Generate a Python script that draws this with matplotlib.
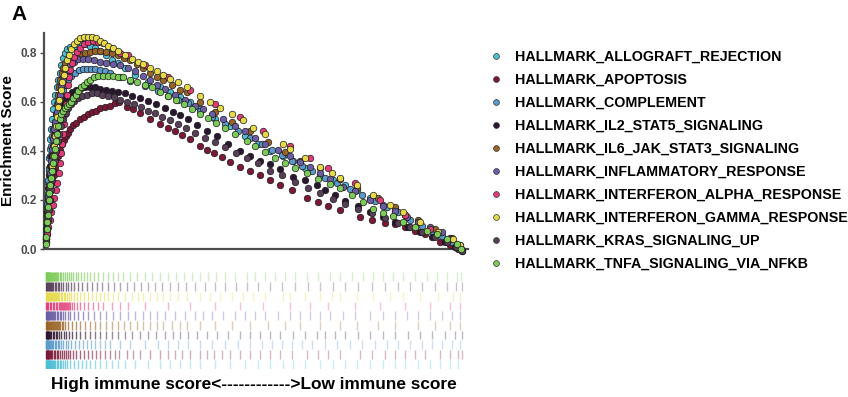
import numpy as np
import matplotlib
matplotlib.use('Agg')
import matplotlib.pyplot as plt
from matplotlib.lines import Line2D
from matplotlib.colors import to_rgba

plt.rcParams['font.family'] = ['Liberation Sans', 'DejaVu Sans']
plt.rcParams['font.weight'] = 'bold'

# ---------------- data (gene rank of hit, running enrichment score) -------------
gene_sets = ['HALLMARK_ALLOGRAFT_REJECTION', 'HALLMARK_APOPTOSIS', 'HALLMARK_COMPLEMENT',
             'HALLMARK_IL2_STAT5_SIGNALING', 'HALLMARK_IL6_JAK_STAT3_SIGNALING',
             'HALLMARK_INFLAMMATORY_RESPONSE', 'HALLMARK_INTERFERON_ALPHA_RESPONSE',
             'HALLMARK_INTERFERON_GAMMA_RESPONSE', 'HALLMARK_KRAS_SIGNALING_UP',
             'HALLMARK_TNFA_SIGNALING_VIA_NFKB']

allograft_rank = [25,50,75,100,125,150,175,200,225,250,300,350,400,450,500,575,650,725,800,900,
                  1000,1100,1250,1450,1650,1850,2050,2250,2500,2750,3050,3350,3650,4000,4500,5150,
                  5750,6250,6750,7250,7750,8500,9250,10000,10650,11250,11900,12400,13000,13750,
                  14400,15000,15600,16250,16900,17500,18000,18650,19250,19750,20250,20650]
allograft_es = [0.03,0.07,0.12,0.17,0.22,0.27,0.32,0.37,0.41,0.45,0.49,0.53,0.57,0.60,0.63,0.66,
                0.69,0.72,0.75,0.78,0.80,0.815,0.825,0.83,0.835,0.835,0.835,0.83,0.82,0.81,0.79,
                0.77,0.76,0.74,0.71,0.68,0.66,0.64,0.62,0.60,0.57,0.53,0.50,0.46,0.43,0.40,0.38,
                0.36,0.33,0.30,0.28,0.26,0.24,0.21,0.18,0.16,0.14,0.11,0.08,0.06,0.04,0.015]

apoptosis_rank = [50,75,100,125,150,200,250,300,350,425,500,575,650,750,850,950,1050,1150,1250,
                  1400,1550,1750,1950,2150,2350,2550,2750,3000,3250,3500,3700,4100,4400,4750,5250,
                  5750,6150,6500,6850,7250,7750,8100,8450,8850,9250,9750,10250,10750,11250,11750,
                  12350,13100,13650,14150,14750,15750,16350,17000,17500,18000,18500,19000,19750,
                  20250,20650,20850]
apoptosis_es = [0.03,0.06,0.09,0.12,0.15,0.18,0.21,0.24,0.27,0.30,0.33,0.355,0.38,0.405,0.43,
                0.445,0.46,0.475,0.49,0.505,0.515,0.53,0.54,0.55,0.56,0.565,0.575,0.58,0.585,
                0.595,0.60,0.58,0.57,0.555,0.53,0.51,0.495,0.48,0.465,0.45,0.42,0.405,0.39,0.375,
                0.355,0.335,0.32,0.30,0.28,0.26,0.24,0.21,0.19,0.175,0.16,0.13,0.12,0.105,0.10,
                0.09,0.075,0.06,0.03,0.015,0.0,-0.01]

complement_rank = [25,50,75,100,125,150,200,250,300,350,400,475,550,625,700,800,900,1025,1150,
                   1300,1500,1700,1900,2100,2300,2500,2750,3000,3250,3750,4250,5000,5650,6150,
                   6650,7150,7750,8350,9000,9650,10250,10850,11350,11850,12350,12850,13350,14000,
                   14600,15250,15850,16500,17100,17650,18250,18850,19350,19850,20350,20750]
complement_es = [0.04,0.08,0.13,0.18,0.23,0.28,0.33,0.38,0.42,0.46,0.49,0.52,0.55,0.58,0.60,0.63,
                 0.65,0.67,0.69,0.705,0.72,0.73,0.735,0.735,0.735,0.735,0.73,0.725,0.72,0.70,
                 0.685,0.665,0.645,0.625,0.61,0.595,0.565,0.54,0.51,0.48,0.455,0.43,0.405,0.385,
                 0.36,0.34,0.32,0.29,0.27,0.245,0.22,0.195,0.17,0.15,0.12,0.095,0.075,0.055,0.03,
                 0.01]

il2_rank = [50,75,100,125,150,200,250,300,375,450,525,600,700,800,925,1050,1200,1350,1550,1750,
            2000,2250,2500,2750,3050,3350,3650,4000,4350,4750,5150,5550,6000,6400,6750,7150,7600,
            8100,8600,9150,9750,10250,10750,11250,11750,12400,13000,13600,14000,14500,15000,
            15650,16250,16900,17500,18150,18750,19350,20000,20500,20850]
il2_es = [0.05,0.10,0.15,0.20,0.25,0.30,0.34,0.38,0.42,0.46,0.49,0.52,0.55,0.575,0.595,0.615,
          0.63,0.64,0.65,0.655,0.66,0.66,0.66,0.655,0.65,0.645,0.64,0.635,0.625,0.615,0.605,0.59,
          0.575,0.56,0.545,0.53,0.505,0.48,0.46,0.43,0.40,0.38,0.36,0.345,0.325,0.295,0.28,0.26,
          0.24,0.22,0.195,0.175,0.15,0.13,0.11,0.09,0.07,0.05,0.03,0.01,-0.005]

il6_rank = [50,75,100,125,175,225,275,325,375,425,475,525,575,625,675,750,825,900,1000,1150,
            1350,1550,1750,2000,2250,2500,2750,3050,3350,3650,3950,4250,4600,4900,5250,5600,5900,
            6350,6750,7100,7750,8500,9350,10250,11150,12000,12750,13750,14750,15600,16650,17500,
            18650,19500,20250,20750]
il6_es = [0.04,0.08,0.12,0.16,0.21,0.26,0.31,0.36,0.41,0.46,0.51,0.55,0.59,0.63,0.66,0.69,0.72,
          0.74,0.76,0.77,0.78,0.785,0.79,0.80,0.805,0.81,0.81,0.805,0.80,0.79,0.78,0.77,0.755,
          0.74,0.72,0.70,0.69,0.67,0.65,0.64,0.60,0.56,0.52,0.48,0.435,0.395,0.36,0.33,0.285,
          0.25,0.21,0.17,0.12,0.08,0.045,0.01]

inflam_rank = [50,75,100,125,150,200,250,300,350,400,450,500,575,650,725,800,900,1000,1125,1250,
               1450,1650,1900,2150,2450,2750,3050,3400,3750,4150,4500,4900,5250,5600,6000,6500,
               7000,7500,7900,8350,8900,9500,10000,10500,11000,11650,12250,12750,13250,13750,
               14250,14900,15500,16250,16900,17500,18100,18650,19250,19850,20350,20750]
inflam_es = [0.05,0.09,0.13,0.17,0.21,0.26,0.31,0.36,0.41,0.45,0.49,0.52,0.56,0.60,0.63,0.66,
             0.69,0.71,0.73,0.75,0.765,0.775,0.775,0.775,0.77,0.765,0.76,0.755,0.75,0.74,0.725,
             0.705,0.69,0.67,0.655,0.63,0.61,0.585,0.57,0.55,0.53,0.50,0.48,0.455,0.43,0.405,
             0.38,0.355,0.335,0.31,0.285,0.255,0.235,0.20,0.175,0.155,0.13,0.11,0.09,0.07,0.045,
             0.015]

ifna_rank = [50,100,150,225,300,375,450,525,600,675,725,775,825,875,925,975,1025,1075,1125,1175,
             1250,1350,1450,1600,1750,1950,2150,2400,2650,2900,3350,3750,4150,5000,6150,7250,
             8500,9750,10900,12250,13250,14150,15500,16750,18000,19250,20250,20750]
ifna_es = [0.03,0.06,0.09,0.12,0.15,0.18,0.21,0.24,0.27,0.31,0.35,0.39,0.43,0.47,0.51,0.55,0.59,
           0.63,0.67,0.70,0.73,0.76,0.785,0.805,0.82,0.835,0.845,0.85,0.845,0.84,0.82,0.80,0.79,
           0.75,0.70,0.65,0.59,0.54,0.48,0.42,0.37,0.33,0.27,0.20,0.14,0.08,0.04,0.01]

ifng_rank = [50,75,100,150,200,250,300,350,400,450,500,550,600,650,700,775,850,925,1000,1100,
             1200,1300,1450,1600,1750,1950,2150,2350,2550,2750,2950,3150,3400,3650,4000,4350,
             4650,4900,5250,5600,5900,6250,6650,7100,7750,8250,8750,9350,9900,10400,11000,11900,
             12250,13000,13750,14350,14750,15600,16400,17250,17900,18750,19650,20400,20750]
ifng_es = [0.04,0.08,0.12,0.16,0.20,0.25,0.29,0.34,0.38,0.42,0.46,0.50,0.54,0.58,0.61,0.65,0.68,
           0.71,0.74,0.77,0.79,0.815,0.835,0.85,0.86,0.865,0.865,0.865,0.86,0.85,0.84,0.83,0.82,
           0.81,0.79,0.775,0.765,0.755,0.74,0.725,0.71,0.695,0.68,0.66,0.625,0.60,0.575,0.55,
           0.525,0.495,0.47,0.43,0.41,0.37,0.335,0.31,0.29,0.26,0.22,0.18,0.15,0.11,0.07,0.04,
           0.015]

kras_rank = [50,75,125,175,225,275,325,400,475,550,625,700,800,900,1025,1150,1300,1450,1650,1850,
             2100,2350,2600,2850,3150,3450,3750,4100,4450,4800,5150,5500,5850,6250,6650,7050,
             7500,8000,8500,9000,9550,10100,10650,11250,11850,12500,13150,13750,14400,15000,
             15650,16350,17000,17650,18250,18850,19500,20100,20550,20850]
kras_es = [0.04,0.08,0.12,0.16,0.20,0.24,0.28,0.32,0.36,0.40,0.44,0.47,0.50,0.53,0.555,0.575,
           0.59,0.605,0.615,0.625,0.63,0.635,0.635,0.63,0.625,0.62,0.61,0.60,0.59,0.58,0.565,
           0.555,0.54,0.525,0.51,0.495,0.475,0.455,0.435,0.415,0.39,0.37,0.35,0.32,0.30,0.275,
           0.25,0.23,0.205,0.185,0.165,0.145,0.125,0.105,0.09,0.07,0.05,0.03,0.01,-0.01]

tnfa_rank = [25,50,75,100,125,150,175,200,250,300,350,400,450,500,550,600,650,725,800,900,1000,
             1100,1200,1300,1400,1525,1650,1800,1950,2100,2250,2450,2650,2900,3150,3400,3650,
             3900,4250,4600,5000,5350,5750,6150,6550,6950,7350,7750,8150,8550,9000,9500,10100,
             10500,11000,11500,12000,12500,13100,13650,14250,14750,15350,15900,16400,16900,
             17400,17900,18500,19100,19600,20100,20600,20800]
tnfa_es = [0.02,0.05,0.08,0.11,0.14,0.17,0.20,0.23,0.26,0.29,0.32,0.35,0.38,0.41,0.44,0.47,0.50,
           0.53,0.55,0.565,0.575,0.585,0.59,0.60,0.615,0.63,0.645,0.66,0.67,0.68,0.69,0.70,0.705,
           0.705,0.705,0.705,0.70,0.70,0.69,0.68,0.67,0.66,0.64,0.625,0.61,0.59,0.57,0.55,0.535,
           0.515,0.495,0.47,0.44,0.42,0.395,0.37,0.35,0.33,0.31,0.285,0.265,0.25,0.22,0.19,0.165,
           0.145,0.135,0.11,0.09,0.075,0.06,0.04,0.02,0.0]

ranks = [allograft_rank, apoptosis_rank, complement_rank, il2_rank, il6_rank,
         inflam_rank, ifna_rank, ifng_rank, kras_rank, tnfa_rank]
scores = [allograft_es, apoptosis_es, complement_es, il2_es, il6_es,
          inflam_es, ifna_es, ifng_es, kras_es, tnfa_es]

y_ticks = [0.0, 0.2, 0.4, 0.6, 0.8]
x_label = 'High immune score<------------>Low immune score'

# ---------------- style -------------
colors = ['#4FBFD6', '#7A1836', '#5B9ACB', '#2B1630', '#9A6427',
          '#6C5CA3', '#E23C78', '#E6DA4B', '#573F58', '#7CCB58']

W, H = 848, 397
fig = plt.figure(figsize=(W / 100, H / 100), dpi=100)

def px_rect(x0, y0, x1, y1):
    return [x0 / W, 1 - y1 / H, (x1 - x0) / W, (y1 - y0) / H]

ax = fig.add_axes(px_rect(44, 33, 468, 249))
ax.set_xlim(-50, 21150)
ax.set_ylim(0, 0.8816)
for s in ['top', 'right']:
    ax.spines[s].set_visible(False)
for s in ['left', 'bottom']:
    ax.spines[s].set_color('#4d4d4d')
    ax.spines[s].set_linewidth(1.6)
ax.set_xticks([])
ax.set_yticks(y_ticks)
ax.set_yticklabels([f'{v:.1f}' for v in y_ticks])
ax.tick_params(axis='y', length=3, width=1, color='#4d4d4d', labelsize=8.5,
               labelcolor='#4d4d4d', pad=2)
for lab in ax.get_yticklabels():
    lab.set_fontweight('bold')
ax.set_ylabel('Enrichment Score', fontsize=11, fontweight='bold', color='black', labelpad=4)

for i, (r, e) in enumerate(zip(ranks, scores)):
    ax.scatter(r, e, s=22, c=colors[i], edgecolors='#1a1a1a', linewidths=0.5,
               zorder=3 + i, clip_on=False)

# rug panel
axr = fig.add_axes(px_rect(44, 272, 468, 369))
axr.set_xlim(-50, 21150)
axr.set_ylim(0, len(gene_sets))
axr.axis('off')
for i, r in enumerate(ranks):
    r = np.asarray(r, dtype=float)
    alpha = 0.3 + 0.7 * np.exp(-r / 2500.0)
    base = np.array(to_rgba(colors[i]))
    cols = np.tile(base, (len(r), 1))
    cols[:, 3] = alpha
    axr.vlines(r, i + 0.05, i + 0.95, colors=cols, linewidth=1.0)

fig.text(254 / W, 1 - 384 / H, x_label, ha='center', va='center',
         fontsize=12.4, fontweight='bold', color='black')
fig.text(11 / W, 1 - 14 / H, 'A', ha='left', va='center', fontsize=15, fontweight='bold')

handles = [Line2D([], [], marker='o', ls='', markersize=4.2, markerfacecolor=c,
                  markeredgecolor='#333333', markeredgewidth=0.5) for c in colors]
fig.legend(handles, gene_sets, loc='upper left', bbox_to_anchor=(483 / W, 1 - 44 / H),
           frameon=False, prop={'weight': 'bold', 'size': 10.3}, labelspacing=0.63,
           handlelength=1.0, handletextpad=0.84, borderpad=0.4, borderaxespad=0)

fig.savefig('out.png', dpi=100)
